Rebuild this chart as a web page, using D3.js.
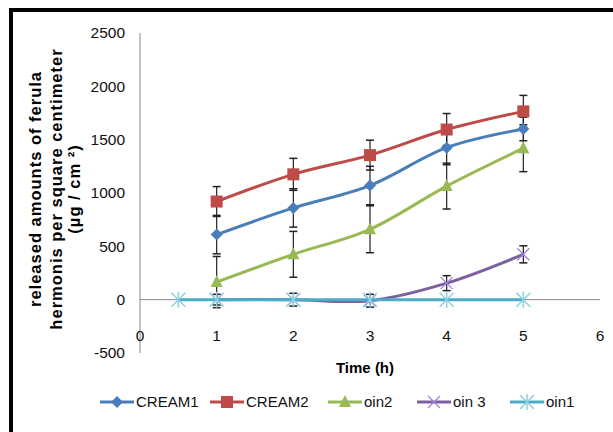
<!DOCTYPE html>
<html>
<head>
<meta charset="utf-8">
<script src="https://cdn.jsdelivr.net/npm/d3@7.9.0/dist/d3.min.js"></script>
<style>
  body { margin: 0; background: #fff; }
  svg { display: block; font-family: "Liberation Sans Narrow", "Liberation Sans", Arial, sans-serif; }
</style>
</head>
<body>
<div id="chart"></div>
<script>
// data
const times = [1, 2, 3, 4, 5];
const cream1 = [610, 860, 1070, 1425, 1600];
const cream1Err = [180, 180, 180, 160, 110];
const cream2 = [920, 1175, 1355, 1595, 1765];
const cream2Err = [140, 150, 140, 150, 150];
const oin2 = [165, 425, 660, 1065, 1420];
const oin2Err = [240, 215, 220, 215, 220];
const oin3 = [0, 0, -10, 155, 425];
const oin3Err = [50, 60, 60, 70, 80];
const oin1Times = [0.5, 1, 2, 3, 4, 5];
const oin1 = [0, 0, 0, 0, 0, 0];
const oin1Err = [0, 0, 0, 0, 0, 0];
const yTicks = [-500, 0, 500, 1000, 1500, 2000, 2500];
const xTicks = [0, 1, 2, 3, 4, 5, 6];

const W = 613, H = 432;
const svg = d3.select('#chart').append('svg')
  .attr('width', W).attr('height', H);

// frame (top and left only visible)
svg.append('line').attr('x1', 9).attr('x2', W).attr('y1', 10).attr('y2', 10)
  .attr('stroke', '#000').attr('stroke-width', 4);
svg.append('line').attr('x1', 11).attr('x2', 11).attr('y1', 8).attr('y2', H)
  .attr('stroke', '#000').attr('stroke-width', 4);

const x = d3.scaleLinear().domain([0, 6]).range([140, 600]);
const y = d3.scaleLinear().domain([-500, 2500]).range([353, 33]);

// y axis
svg.append('line').attr('x1', x(0)).attr('x2', x(0)).attr('y1', y(2500)).attr('y2', y(-500))
  .attr('stroke', '#878787').attr('stroke-width', 1);
svg.append('g').selectAll('text').data(yTicks).join('text')
  .attr('x', 125).attr('y', d => y(d)).attr('dy', '0.35em')
  .attr('text-anchor', 'end').attr('font-size', 15.5).attr('fill', '#111')
  .text(d => d);

// x axis at zero
svg.append('line').attr('x1', x(0)).attr('x2', x(6)).attr('y1', y(0)).attr('y2', y(0))
  .attr('stroke', '#878787').attr('stroke-width', 1);
svg.append('g').selectAll('text').data(xTicks).join('text')
  .attr('x', d => x(d)).attr('y', 336).attr('dy', '0.35em')
  .attr('text-anchor', 'middle').attr('font-size', 15.5).attr('fill', '#111')
  .text(d => d);

// axis titles
svg.append('text').attr('x', 365).attr('y', 368).attr('dy', '0.35em')
  .attr('text-anchor', 'middle').attr('font-size', 15).attr('font-weight', 'bold')
  .text('Time  (h)');

const yTitle = svg.append('text')
  .attr('transform', 'translate(0,189) rotate(-90)')
  .attr('text-anchor', 'middle').attr('font-size', 16.5).attr('font-weight', 'bold')
  .attr('letter-spacing', 1);
yTitle.append('tspan').attr('x', 0).attr('y', 41).text('released  amounts of ferula');
yTitle.append('tspan').attr('x', 0).attr('y', 62).text('hermonis  per square centimeter');
yTitle.append('tspan').attr('x', 0).attr('y', 80).text('(\u00b5g / cm \u00b2)');

const series = [
  { name: 'CREAM1', xs: times, vals: cream1, err: cream1Err, color: '#4A7EBB', marker: 'diamond' },
  { name: 'CREAM2', xs: times, vals: cream2, err: cream2Err, color: '#BE4B48', marker: 'square' },
  { name: 'oin2', xs: times, vals: oin2, err: oin2Err, color: '#98B954', marker: 'triangle' },
  { name: 'oin 3', xs: times, vals: oin3, err: oin3Err, color: '#7D60A0', marker: 'x' },
  { name: 'oin1', xs: oin1Times, vals: oin1, err: oin1Err, color: '#4BACC6', marker: 'star' }
];

function drawMarker(g, type, color, cx, cy) {
  if (type === 'diamond') {
    g.append('path').attr('d', `M${cx},${cy - 6}L${cx + 6},${cy}L${cx},${cy + 6}L${cx - 6},${cy}Z`).attr('fill', color);
  } else if (type === 'square') {
    g.append('rect').attr('x', cx - 6).attr('y', cy - 6).attr('width', 12).attr('height', 12).attr('fill', color);
  } else if (type === 'triangle') {
    g.append('path').attr('d', `M${cx},${cy - 7}L${cx + 6},${cy + 5}L${cx - 6},${cy + 5}Z`).attr('fill', color);
  } else if (type === 'x') {
    g.append('path').attr('d', `M${cx - 6},${cy - 6}L${cx + 6},${cy + 6}M${cx - 6},${cy + 6}L${cx + 6},${cy - 6}`)
      .attr('stroke', d3.color(color).brighter(0.8)).attr('stroke-width', 1.3);
  } else if (type === 'star') {
    g.append('path').attr('d', `M${cx - 7},${cy - 7}L${cx + 7},${cy + 7}M${cx - 7},${cy + 7}L${cx + 7},${cy - 7}M${cx},${cy - 8}L${cx},${cy + 8}`)
      .attr('stroke', '#8fd0e2').attr('stroke-width', 1.5);
  }
}

const line = d3.line().x(d => x(d[0])).y(d => y(d[1])).curve(d3.curveCatmullRom);

// error bars first, behind lines
series.forEach(s => {
  const g = svg.append('g');
  s.xs.forEach((t, i) => {
    if (!s.err[i]) {
      return;
    }
    const cx = x(t), top = y(s.vals[i] + s.err[i]), bot = y(s.vals[i] - s.err[i]);
    g.append('line').attr('x1', cx).attr('x2', cx).attr('y1', top).attr('y2', bot)
      .attr('stroke', '#222').attr('stroke-width', 1.2);
    [top, bot].forEach(v => g.append('line').attr('x1', cx - 4).attr('x2', cx + 4).attr('y1', v).attr('y2', v)
      .attr('stroke', '#222').attr('stroke-width', 1.5));
  });
});

series.forEach(s => {
  const pts = s.xs.map((t, i) => [t, s.vals[i]]);
  svg.append('path').datum(pts).attr('d', line)
    .attr('fill', 'none').attr('stroke', s.color).attr('stroke-width', 3);
  const g = svg.append('g');
  pts.forEach(p => drawMarker(g, s.marker, s.color, x(p[0]), y(p[1])));
});

// legend
const legendX = [100, 210, 328, 417, 510];
series.forEach((s, i) => {
  const g = svg.append('g').attr('transform', `translate(${legendX[i]},402)`);
  g.append('line').attr('x1', 0).attr('x2', 34).attr('stroke', s.color).attr('stroke-width', 3);
  drawMarker(g, s.marker, s.color, 17, 0);
  g.append('text').attr('x', 36).attr('dy', '0.35em').attr('font-size', 15).attr('fill', '#111').text(s.name);
});
</script>
</body>
</html>
